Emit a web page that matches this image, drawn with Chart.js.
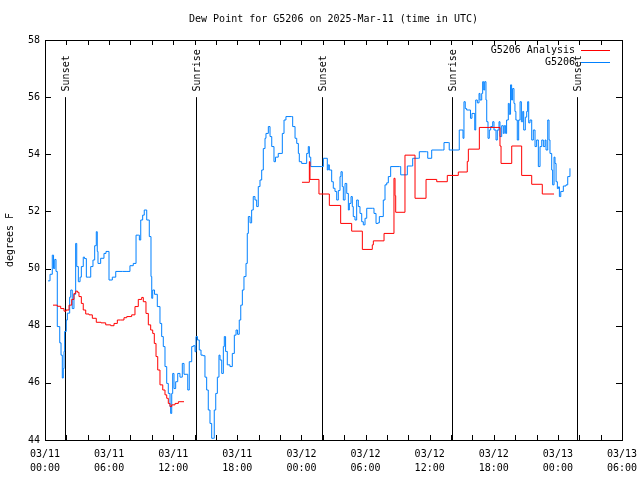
<!DOCTYPE html>
<html>
<head>
<meta charset="utf-8">
<script src="https://cdn.jsdelivr.net/npm/chart.js@4.4.1/dist/chart.umd.min.js"></script>
<style>
    html, body { margin: 0; padding: 0; background: #fff; }
    #wrap { width: 640px; height: 480px; }
</style>
</head>
<body>
<div id="wrap"><canvas id="chart" width="640" height="480"></canvas></div>
<script>
// hours since 03/11 00:00 UTC
let analysisHours = [0.75, 1.15, 1.47, 1.78, 1.97, 2.25, 2.50, 2.71, 2.87, 3.04, 3.18, 3.40, 3.58, 3.81, 4.12, 4.43,
    4.80, 5.24, 5.68, 6.15, 6.46, 6.77, 7.08, 7.39, 7.65, 8.11, 8.42, 8.73, 9.05, 9.20, 9.45, 9.67, 9.89, 10.08,
    10.23, 10.39, 10.55, 10.76, 11.02, 11.23, 11.39, 11.54, 11.70, 11.86, 12.17, 12.48, 13.01,
    18.00,
    24.05, 24.74, 24.80, 25.64, 26.61, 27.67, 28.70, 29.70, 30.63, 30.73, 31.73, 32.66, 32.76, 32.82, 33.69,
    34.63, 35.66, 36.66, 37.65, 38.68, 39.52, 39.62, 40.65, 42.58, 42.68, 43.68, 44.61, 45.55, 46.54, 47.64]
let analysisTemps = [48.72, 48.68, 48.60, 48.51, 48.55, 48.72, 48.92, 49.13, 49.21, 49.17, 49.02, 48.78, 48.55, 48.41,
    48.38, 48.26, 48.12, 48.10, 48.03, 48.00, 48.08, 48.20, 48.20, 48.28, 48.32, 48.38, 48.67, 48.92, 48.99, 48.84,
    48.43, 48.03, 47.85, 47.73, 47.38, 46.92, 46.45, 45.93, 45.75, 45.58, 45.46, 45.28, 45.17, 45.23, 45.28, 45.34, 45.34,
    null,
    53.02, 53.74, 53.12, 52.61, 52.21, 51.58, 51.31, 50.67, 50.83, 50.97, 51.23, 53.16, 52.55, 51.97, 53.97,
    52.46, 53.12, 53.04, 53.26, 53.38, 53.75, 54.18, 54.94, 54.29, 53.68, 54.29, 53.26, 52.95, 52.61, 52.61]

let obsHours = [0.28, 0.47, 0.68, 0.80, 0.91, 1.03, 1.15, 1.38, 1.50, 1.62, 1.71, 1.78, 1.84, 1.99, 2.09, 2.31, 2.41,
    2.55, 2.71, 2.87, 2.97, 3.12, 3.28, 3.40, 3.58, 3.70, 3.87, 4.05, 4.28, 4.49, 4.65, 4.80, 4.89, 4.96, 5.21, 5.52,
    5.71, 5.90, 5.99, 6.30, 6.62, 7.23, 7.67, 7.95, 8.26, 8.52, 8.73, 8.83, 8.96, 9.14, 9.29, 9.52, 9.76, 9.92, 9.99,
    10.08, 10.25, 10.51, 10.76, 10.92, 11.07, 11.23, 11.39, 11.54, 11.70, 11.76, 11.86, 11.95, 12.07, 12.23, 12.42,
    12.63, 12.85, 13.01, 13.20, 13.36, 13.50, 13.73, 13.88, 14.04, 14.13, 14.27, 14.44, 14.60, 14.79, 14.97, 15.13,
    15.28, 15.44, 15.60, 15.75, 15.84, 15.98, 16.13, 16.28, 16.38, 16.54, 16.69, 16.78, 16.90, 17.06, 17.31, 17.53,
    17.72, 17.88, 18.02, 18.18, 18.32, 18.47, 18.62, 18.81, 18.93, 19.03, 19.19, 19.34, 19.49, 19.65, 19.81, 19.96,
    20.12, 20.28, 20.43, 20.59, 20.68, 20.90, 21.06, 21.22, 21.43, 21.57, 21.83, 22.09, 22.21, 22.37, 22.55, 23.09,
    23.18, 23.40, 23.56, 23.71, 23.80, 24.02, 24.33, 24.49, 24.64, 24.74, 24.87, 25.90, 26.05, 26.42, 26.51, 26.61,
    26.83, 26.98, 27.14, 27.30, 27.45, 27.61, 27.70, 27.82, 27.92, 28.08, 28.24, 28.39, 28.48, 28.64, 28.76, 28.85,
    29.01, 29.17, 29.32, 29.48, 29.64, 29.79, 29.95, 30.11, 30.67, 30.79, 30.98, 31.16, 31.29, 31.54, 31.66, 31.82,
    31.98, 32.13, 32.35, 33.16, 33.29, 33.79, 33.91, 34.32, 34.41, 34.94, 35.03, 35.72, 35.82, 36.19, 37.22, 37.34,
    37.74, 37.83, 38.68, 38.77, 39.02, 39.12, 39.21, 39.33, 39.46, 39.67, 39.82, 39.96, 40.15, 40.22, 40.31, 40.46,
    40.62, 40.71, 40.87, 40.96, 41.06, 41.15, 41.27, 41.34, 41.46, 41.58, 41.71, 41.90, 42.02, 42.21, 42.33, 42.49,
    42.58, 42.74, 42.89, 42.98, 43.11, 43.20, 43.36, 43.45, 43.57, 43.67, 43.76, 43.89, 43.98, 44.07, 44.20, 44.33,
    44.46, 44.58, 44.71, 44.80, 44.95, 45.08, 45.17, 45.27, 45.39, 45.55, 45.70, 45.86, 46.01, 46.17, 46.33, 46.49,
    46.64, 46.80, 46.89, 47.05, 47.17, 47.26, 47.42, 47.51, 47.64, 47.73, 47.83, 47.95, 48.05, 48.14, 48.27, 48.51,
    48.76, 48.92, 49.13]
let obsTemps = [49.57, 49.80, 50.47, 50.00, 50.32, 49.90, 47.97, 47.40, 46.97, 46.17, 46.50, 47.10, 47.80, 48.20, 48.44,
    49.00, 49.25, 48.60, 49.10, 50.88, 50.07, 49.54, 49.70, 50.07, 50.40, 50.35, 49.70, 49.70, 50.07, 50.30, 50.80,
    51.29, 50.60, 50.18, 50.36, 50.53, 50.60, 50.60, 49.60, 49.70, 49.90, 49.90, 49.90, 50.10, 50.18, 51.17, 51.17,
    51.00, 51.70, 51.87, 52.05, 51.70, 51.12, 49.72, 48.96, 49.25, 49.10, 48.67, 48.08, 47.62, 47.27, 46.57, 45.98,
    45.63, 45.17, 44.93, 45.63, 46.33, 45.80, 46.04, 46.33, 46.20, 46.68, 46.30, 46.30, 45.75, 46.74, 47.27, 47.30,
    47.09, 47.62, 47.50, 47.15, 46.97, 46.95, 46.20, 45.75, 45.05, 44.58, 44.06, 44.06, 45.05, 45.63, 46.20, 46.97,
    46.80, 46.33, 47.27, 47.62, 47.10, 46.63, 46.57, 47.03, 47.67, 47.85, 47.70, 48.20, 48.72, 49.25, 49.72, 50.18,
    51.23, 51.82, 51.60, 52.05, 52.52, 52.40, 52.17, 52.87, 53.10, 53.45, 54.20, 54.56, 54.73, 54.97, 54.62, 54.27,
    53.74, 53.90, 54.03, 54.03, 54.73, 55.20, 55.32, 55.32, 54.97, 54.56, 54.38, 54.03, 53.74, 53.68, 53.68, 54.03,
    54.27, 53.90, 53.57, 53.57, 53.86, 53.45, 53.63, 53.45, 53.04, 52.81, 52.70, 52.40, 52.73, 53.22, 53.39, 52.87,
    52.40, 52.98, 52.63, 52.05, 52.28, 52.52, 52.17, 51.82, 51.70, 52.40, 52.17, 51.93, 51.64, 51.53, 51.76, 52.11,
    52.11, 51.93, 51.58, 51.60, 51.82, 51.82, 52.40, 52.93, 53.00, 53.22, 53.57, 53.57, 53.28, 53.28, 53.59, 53.59,
    53.86, 53.86, 54.09, 54.09, 53.86, 54.15, 54.15, 54.41, 54.41, 54.15, 54.15, 54.85, 54.85, 54.56, 55.84, 55.60,
    55.55, 55.55, 55.26, 55.43, 55.43, 54.85, 55.90, 55.80, 56.13, 55.90, 56.13, 56.54, 56.25, 56.54, 55.90, 55.14,
    54.56, 54.85, 54.97, 55.14, 54.85, 54.50, 54.85, 55.14, 54.62, 55.00, 54.73, 55.00, 54.73, 55.20, 55.78, 55.40,
    56.43, 55.90, 56.30, 55.78, 55.50, 55.20, 54.50, 55.20, 55.84, 55.14, 55.50, 54.85, 55.30, 55.50, 55.84, 55.10,
    55.20, 54.50, 54.85, 54.27, 54.50, 53.57, 54.27, 54.50, 54.27, 54.50, 54.15, 55.20, 54.50, 54.03, 53.45, 52.93,
    53.90, 53.68, 53.04, 52.80, 52.86, 52.52, 52.70, 52.89, 52.93, 53.22, 53.51]

let xTickHours = [0, 6, 12, 18, 24, 30, 36, 42, 48, 54]
let xTickLabels = [["03/11", "00:00"], ["03/11", "06:00"], ["03/11", "12:00"], ["03/11", "18:00"], ["03/12", "00:00"],
    ["03/12", "06:00"], ["03/12", "12:00"], ["03/12", "18:00"], ["03/13", "00:00"], ["03/13", "06:00"]]

let sunHours = [1.87, 14.17, 25.88, 38.13, 49.78]
let sunLabels = ["Sunset", "Sunrise", "Sunset", "Sunrise", "Sunset"]

const FONT = "DejaVu Sans Mono"
const RED = "rgb(255,0,0)"
const BLUE = "rgb(0,128,255)"

function toPoints(xs, ys) {
    return xs.map((x, i) => ({x: x, y: ys[i]}))
}

const gnuplotLook = {
    id: "gnuplotLook",
    beforeDatasetsDraw(chart) {
        let ctx = chart.ctx
        let x = chart.scales.x, y = chart.scales.y
        ctx.save()
        ctx.strokeStyle = "#000"
        ctx.lineWidth = 1
        ctx.fillStyle = "#000"
        ctx.font = `10px "${FONT}"`
        ctx.textAlign = "left"
        ctx.textBaseline = "middle"
        sunHours.forEach((h, i) => {
            let px = Math.round(x.getPixelForValue(h)) + 0.5
            ctx.beginPath()
            ctx.moveTo(px, y.getPixelForValue(56))
            ctx.lineTo(px, chart.chartArea.bottom)
            ctx.stroke()
            ctx.save()
            ctx.translate(px + 1, y.getPixelForValue(56.2))
            ctx.rotate(-Math.PI / 2)
            ctx.fillText(sunLabels[i], 0, 0)
            ctx.restore()
        })
        ctx.restore()
    },
    afterDraw(chart) {
        let ctx = chart.ctx
        let a = chart.chartArea
        let x = chart.scales.x, y = chart.scales.y
        ctx.save()
        ctx.strokeStyle = "#000"
        ctx.lineWidth = 1
        ctx.strokeRect(Math.round(a.left) + 0.5, Math.round(a.top) + 0.5, Math.round(a.right - a.left), Math.round(a.bottom - a.top))
        ctx.beginPath()
        x.ticks.forEach(t => {
            let px = Math.round(x.getPixelForValue(t.value)) + 0.5
            ctx.moveTo(px, a.bottom); ctx.lineTo(px, a.bottom - 5)
            ctx.moveTo(px, a.top); ctx.lineTo(px, a.top + 5)
        })
        y.ticks.forEach(t => {
            let py = Math.round(y.getPixelForValue(t.value)) + 0.5
            ctx.moveTo(a.left, py); ctx.lineTo(a.left + 6, py)
            ctx.moveTo(a.right, py); ctx.lineTo(a.right - 6, py)
        })
        ctx.stroke()

        ctx.fillStyle = "#000"
        ctx.font = `10px "${FONT}"`
        ctx.textBaseline = "middle"
        ctx.textAlign = "center"
        ctx.fillText("Dew Point for G5206 on 2025-Mar-11 (time in UTC)", (a.left + a.right) / 2, 19)

        // key, top right inside the plot
        let names = chart.data.datasets.map(d => d.label)
        names.forEach((name, i) => {
            let ly = 50 + i * 12
            ctx.textAlign = "right"
            ctx.fillStyle = "#000"
            ctx.fillText(name, 575, ly)
            ctx.strokeStyle = chart.data.datasets[i].borderColor
            ctx.beginPath()
            ctx.moveTo(581, ly + 0.5)
            ctx.lineTo(610, ly + 0.5)
            ctx.stroke()
        })
        ctx.restore()
    }
}

new Chart(document.getElementById("chart"), {
    type: "line",
    data: {
        datasets: [
            {
                label: "G5206 Analysis",
                data: toPoints(analysisHours, analysisTemps),
                borderColor: RED,
                borderWidth: 1,
                pointRadius: 0,
                stepped: "before",
                spanGaps: false,
            },
            {
                label: "G5206",
                data: toPoints(obsHours, obsTemps),
                borderColor: BLUE,
                borderWidth: 1,
                pointRadius: 0,
                stepped: "before",
            },
        ]
    },
    options: {
        responsive: false,
        animation: false,
        events: [],
        layout: {padding: {top: 40, right: 18, left: 0, bottom: 0}},
        plugins: {
            legend: {display: false},
            title: {display: false},
            tooltip: {enabled: false},
        },
        scales: {
            x: {
                type: "linear",
                min: 0,
                max: 54,
                afterFit: (scale) => {
                    scale.height = 40
                    scale.paddingLeft = 0
                    scale.paddingRight = 0
                },
                grid: {drawOnChartArea: false, drawTicks: false},
                border: {display: false},
                ticks: {
                    stepSize: 2,
                    autoSkip: false,
                    maxRotation: 0,
                    padding: 7,
                    color: "#000",
                    font: {family: FONT, size: 10, lineHeight: 1.4},
                    callback: (value) => {
                        let i = xTickHours.indexOf(value)
                        return i >= 0 ? xTickLabels[i] : ""
                    }
                }
            },
            y: {
                min: 44,
                max: 58,
                afterFit: (scale) => { scale.width = 45 },
                grid: {drawOnChartArea: false, drawTicks: false},
                border: {display: false},
                ticks: {
                    stepSize: 2,
                    padding: 5,
                    color: "#000",
                    font: {family: FONT, size: 10},
                },
                title: {
                    display: true,
                    text: "degrees F",
                    color: "#000",
                    font: {family: FONT, size: 10},
                    padding: {top: 4, bottom: 0}
                }
            }
        }
    },
    plugins: [gnuplotLook]
})
</script>
</body>
</html>
